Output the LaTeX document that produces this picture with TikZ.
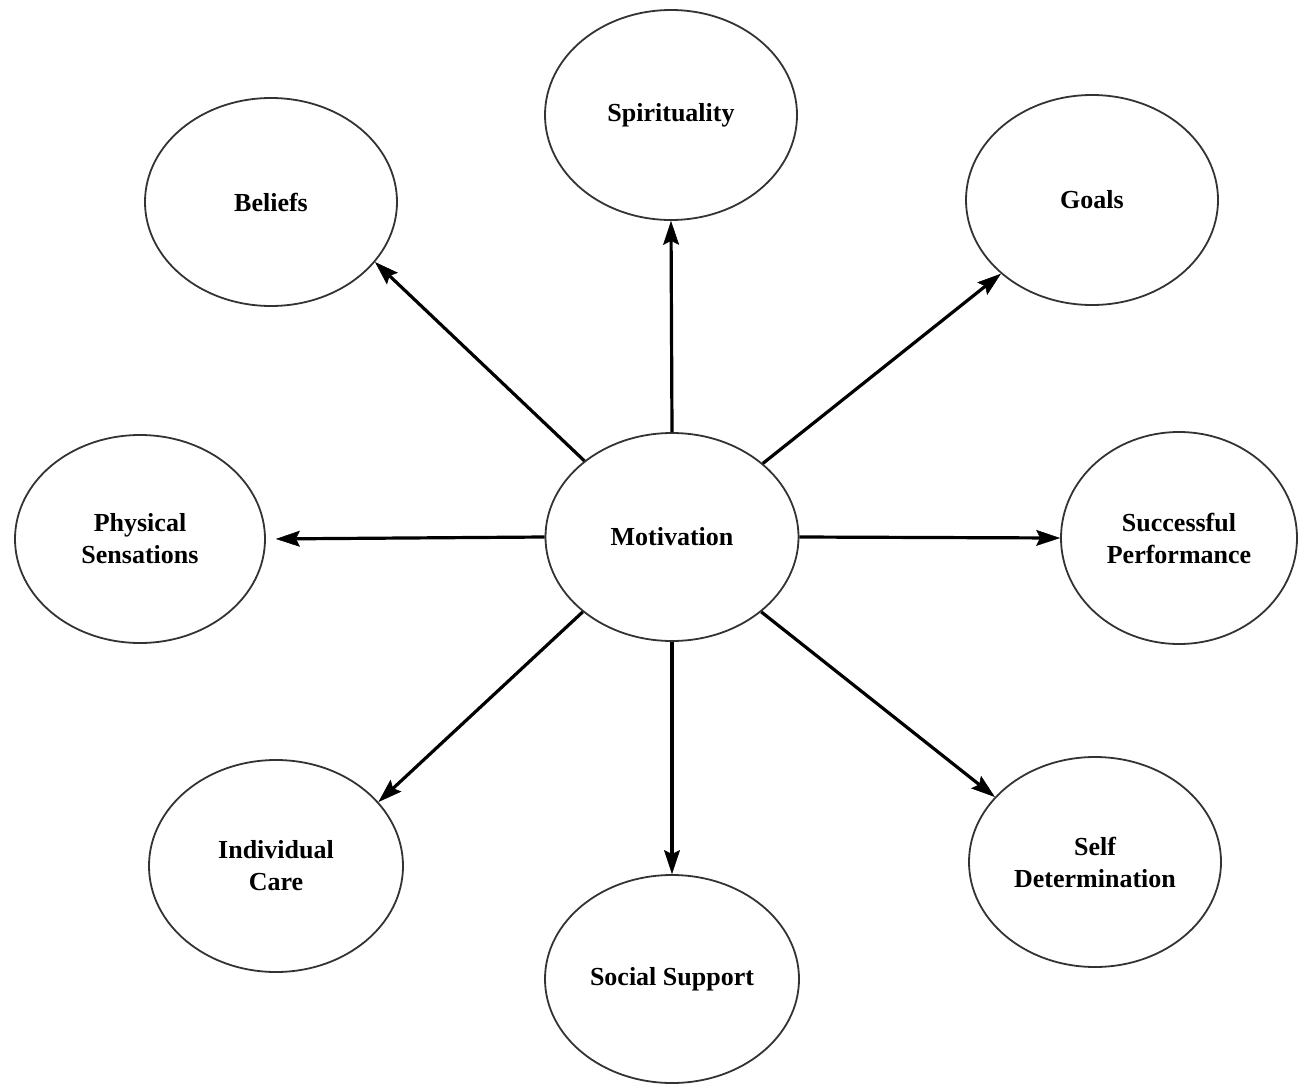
\documentclass[tikz,border=0pt]{standalone}
\usepackage{fontspec}
\setmainfont{Liberation Serif}
\usetikzlibrary{arrows.meta,shapes.geometric}
\begin{document}
\begin{tikzpicture}[x=1pt,y=-1pt,
  bub/.style={ellipse, draw=black!80, line width=1.8pt, minimum width=252pt, minimum height=208pt, inner sep=0pt, align=center, font=\fontsize{26}{32}\selectfont\bfseries},
  arr/.style={-{Stealth[length=24pt 0 0,width=16pt 0 0,inset=4pt 0,fill=black,line width=0.5pt]}, line width=3.2pt, draw=black}]
\useasboundingbox (0,0) rectangle (1298,1084);
\node[bub, minimum height=210pt] (spi) at (671,115) {Spirituality};
\node[bub] (bel) at (271,202) {Beliefs};
\node[bub, minimum height=210pt] (goa) at (1092,200) {Goals};
\node[bub, minimum width=250pt] (phy) at (140,539) {Physical\\Sensations};
\node[bub, minimum width=253pt] (mot) at (672,537) {Motivation};
\node[bub, minimum width=236pt, minimum height=212pt] (suc) at (1179,538) {Successful\\Performance};
\node[bub, minimum width=254pt, minimum height=212pt] (ind) at (276,866) {Individual\\Care};
\node[bub, minimum width=254pt] (soc) at (672,979) {Social Support};
\node[bub, minimum height=210pt] (sdt) at (1095,862) {Self\\Determination};
\draw[arr] (mot.90) -- (spi.-90);
\draw[arr] (mot.139) -- (bel.-30.5);
\draw[arr] (mot.39.5) -- (goa.219.6);
\draw[arr, shorten >=10pt] (mot.180) -- (phy.0);
\draw[arr] (mot.0) -- (suc.180);
\draw[arr] (mot.220.5) -- (ind.32.7);
\draw[arr] (mot.-90) -- (soc.90);
\draw[arr] (mot.-40) -- (sdt.147.9);
\end{tikzpicture}
\end{document}
